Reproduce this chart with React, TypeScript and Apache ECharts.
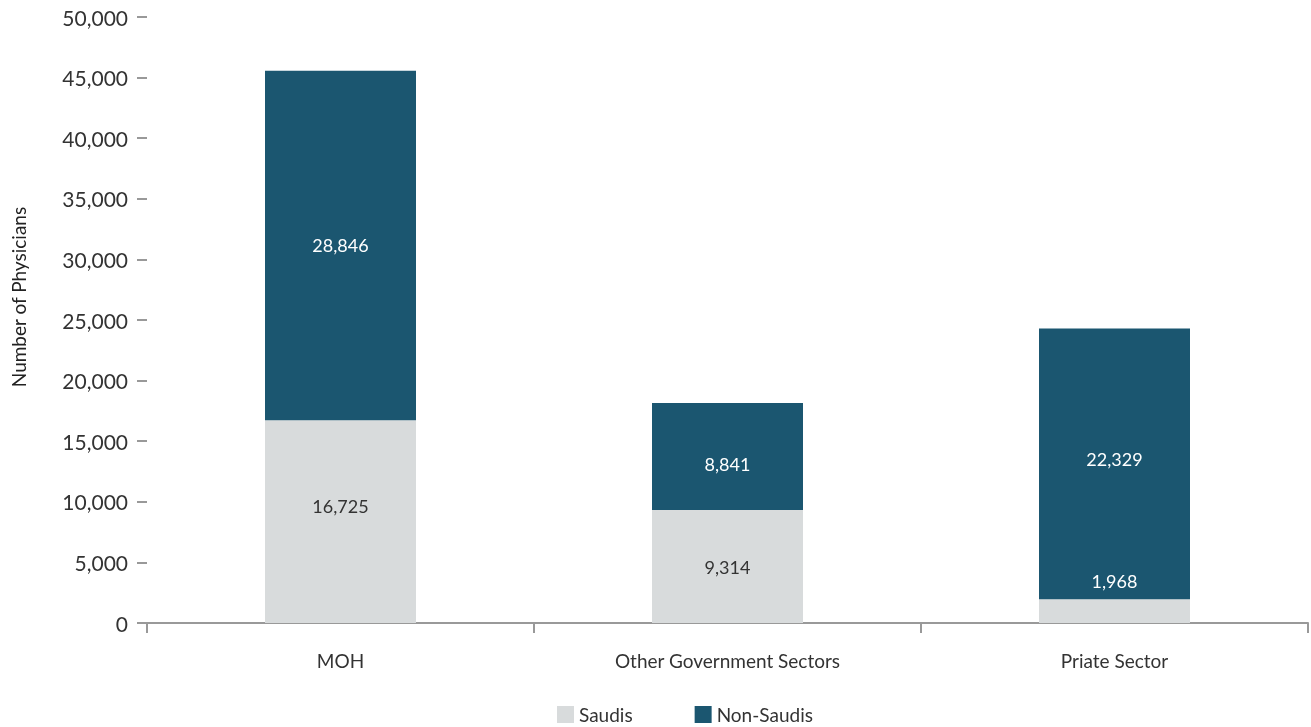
import React, { useEffect, useRef } from "react";
import * as echarts from "echarts";

const categories = ["MOH", "Other Government Sectors", "Priate Sector"];
const saudis = [16725, 9314, 1968];
const nonSaudis = [28846, 8841, 22329];
const yTicks = [0, 5000, 10000, 15000, 20000, 25000, 30000, 35000, 40000, 45000, 50000];

const FONT = "Lato";

export default function App() {
  const ref = useRef<HTMLDivElement>(null);
  useEffect(() => {
    if (!ref.current) return;
    const chart = echarts.init(ref.current, undefined, { renderer: "svg" });
    const fmt = (v: number) => v.toLocaleString("en-US");
    const saudiData = saudis.map((v, i) => {
      if (i === 0) return { value: v, label: { offset: [0, -16] } };
      if (i === 2)
        return { value: v, label: { position: "top", distance: 9, color: "#ffffff" } };
      return v;
    });
    const nonSaudiData = nonSaudis.map((v, i) => {
      if (i === 1) return { value: v, label: { offset: [0, 7] } };
      if (i === 2) return { value: v, label: { offset: [0, -5] } };
      return v;
    });
    chart.setOption({
      animation: false,
      textStyle: { fontFamily: FONT },
      grid: { left: 147, right: 3, top: 17, bottom: 104, containLabel: false },
      legend: {
        top: 700,
        left: 552,
        itemWidth: 17,
        itemHeight: 17,
        itemGap: 62,
        icon: "rect",
        textStyle: { fontSize: 19, color: "#333", fontFamily: FONT },
        data: ["Saudis", "Non-Saudis"],
      },
      graphic: [
        {
          type: "text",
          x: 9,
          y: 297,
          rotation: Math.PI / 2,
          style: {
            text: "Number of Physicians",
            font: `19px ${FONT}`,
            fill: "#222",
            align: "center",
            verticalAlign: "top",
          },
        },
      ],
      xAxis: {
        type: "category",
        data: categories,
        axisLine: { lineStyle: { color: "#999", width: 2 } },
        axisTick: { show: true, length: 10, lineStyle: { color: "#999", width: 2 } },
        axisLabel: { fontSize: 19, color: "#333", margin: 28 },
      },
      yAxis: {
        type: "value",
        min: yTicks[0],
        max: yTicks[yTicks.length - 1],
        interval: yTicks[1] - yTicks[0],
        axisLine: { show: false },
        axisTick: { show: true, length: 10, lineStyle: { color: "#999", width: 2 } },
        splitLine: { show: false },
        axisLabel: { fontSize: 21, color: "#333", margin: 19, formatter: (v: number) => fmt(v) },
      },
      series: [
        {
          name: "Saudis",
          type: "bar",
          stack: "total",
          barWidth: 151,
          itemStyle: { color: "#d8dbdc" },
          label: {
            show: true,
            position: "inside",
            color: "#333",
            fontSize: 18,
            formatter: (p: any) => fmt(p.value),
          },
          data: saudiData,
        },
        {
          name: "Non-Saudis",
          type: "bar",
          stack: "total",
          barWidth: 151,
          itemStyle: { color: "#1b5670" },
          label: {
            show: true,
            position: "inside",
            color: "#ffffff",
            fontSize: 18,
            formatter: (p: any) => fmt(p.value),
          },
          data: nonSaudiData,
        },
      ],
    });
    return () => chart.dispose();
  }, []);
  return (
    <div
      ref={ref}
      style={{ position: "fixed", left: 0, top: 0, width: 1311, height: 727 }}
    />
  );
}
